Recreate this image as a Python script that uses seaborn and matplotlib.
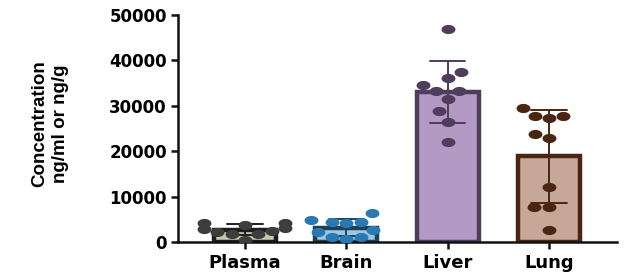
import numpy as np
import pandas as pd
import matplotlib
matplotlib.use("Agg")
import matplotlib.pyplot as plt
from matplotlib.path import Path
import seaborn as sns

categories = ["Plasma", "Brain", "Liver", "Lung"]
plasma = [4200, 3700, 4200, 2400, 3100, 2200, 1760, 1760, 2860, 440]
brain = [6400, 4800, 4400, 4200, 4400, 2600, 2200, 1100, 1100, 660]
liver = [46900, 37450, 36100, 34600, 33300, 33300, 31500, 28900, 26400, 22000]
lung = [29500, 27300, 27750, 27750, 23800, 22900, 12100, 7700, 7700, 2640]
yticks = [0, 10000, 20000, 30000, 40000, 50000]

fill_colors = ["#c8cab0", "#9fc5df", "#b29ac5", "#c7a898"]
edge_colors = ["#1e1e1e", "#1d4258", "#4f3d5c", "#4a2612"]
dot_colors = ["#3d3d3d", "#2a79b3", "#4f3d5c", "#4a2612"]

values = [plasma, brain, liver, lung]
df = pd.DataFrame({
    "organ": np.repeat(categories, [len(v) for v in values]),
    "conc": np.concatenate(values),
})

sns.set_style("ticks")
plt.rcParams["font.family"] = ["DejaVu Sans"]

fig = plt.figure(figsize=(6.35, 2.8), dpi=100)
ax = fig.add_axes([178 / 635, 1 - 242 / 280, 439 / 635, 227 / 280])

# ellipse marker (wider than tall, as in the reference)
t = np.linspace(0, 2 * np.pi, 40)
ell = Path(np.column_stack([np.cos(t), 0.66 * np.sin(t)]), closed=True)

for i, cat in enumerate(categories):
    sub = df[df["organ"] == cat]
    sns.barplot(data=sub, x="organ", y="conc", order=categories,
                errorbar="sd", capsize=0.35, width=0.61,
                color=fill_colors[i], edgecolor=edge_colors[i], linewidth=3.2,
                err_kws={"color": edge_colors[i], "linewidth": 1.4},
                saturation=1, ax=ax)

for i, cat in enumerate(categories):
    sub = df[df["organ"] == cat]
    sns.swarmplot(data=sub, x="organ", y="conc", order=categories,
                  color=dot_colors[i], marker=ell, size=10, linewidth=0,
                  ax=ax, zorder=5, warn_thresh=1)

ax.set_ylim(0, 50000)
ax.set_xlim(-0.66, 3.67)
ax.set_yticks(yticks)
ax.set_yticklabels([str(v) for v in yticks])
ax.set_xlabel("")
ax.set_ylabel("")
sns.despine(ax=ax)
for s in ["left", "bottom"]:
    ax.spines[s].set_linewidth(1.8)
    ax.spines[s].set_color("#111111")
ax.tick_params(axis="both", direction="out", width=1.8, length=5,
               color="#111111", labelcolor="black")
for lab in ax.get_yticklabels():
    lab.set_fontsize(12)
    lab.set_fontweight("bold")
for lab in ax.get_xticklabels():
    lab.set_fontsize(13)
    lab.set_fontweight("bold")
ax.tick_params(axis="y", pad=3)
ax.tick_params(axis="x", pad=4)

fig.text(50 / 635, 1 - 124 / 280, "Concentration\nng/ml or ng/g", rotation=90,
         ha="center", va="center", multialignment="center", color="black",
         family=["Liberation Sans Narrow", "Liberation Sans", "DejaVu Sans"],
         fontweight="bold", fontsize=13.5, linespacing=1.3)

fig.savefig("out.png", dpi=100)
